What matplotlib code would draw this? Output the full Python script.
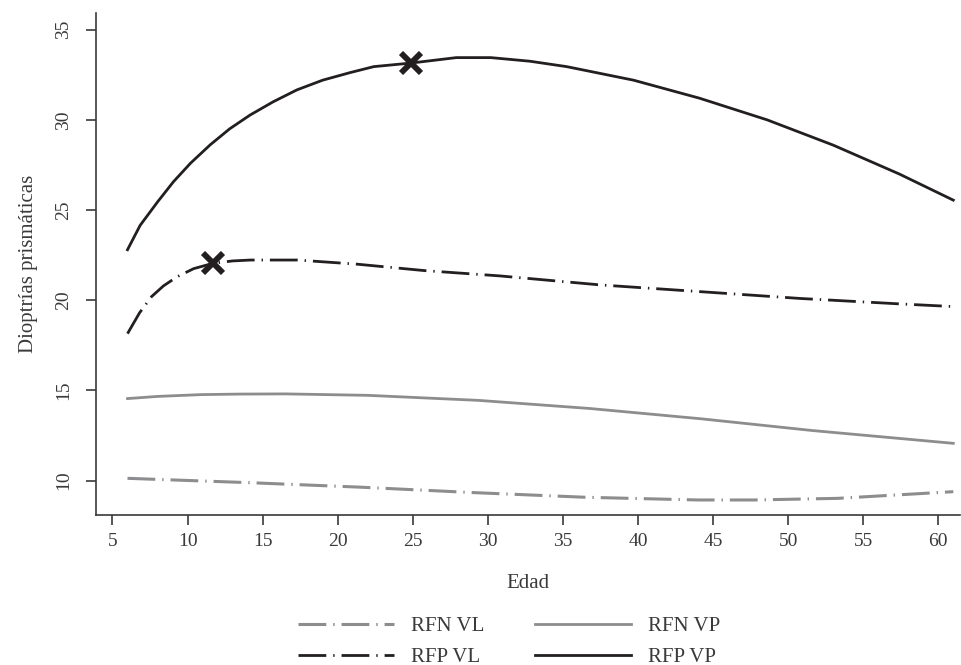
import matplotlib
matplotlib.use('Agg')
import matplotlib.pyplot as plt
from matplotlib.lines import Line2D

plt.rcParams['font.family'] = ['Liberation Serif', 'DejaVu Serif']
plt.rcParams['lines.scale_dashes'] = False

# Curves (age, prism dioptres)
rfp_vp_x = [6.0, 6.84, 8.0, 9.06, 10.2, 11.5, 12.8, 14.17, 15.7, 17.28, 19.0, 20.83,
            22.4, 24.9, 27.9, 30.2, 32.8, 35.25, 39.7, 44.1, 48.6, 53.0, 57.4, 61.0]
rfp_vp_y = [22.8, 24.15, 25.45, 26.57, 27.6, 28.61, 29.5, 30.27, 31.0, 31.66, 32.2, 32.62,
            32.95, 33.15, 33.45, 33.45, 33.25, 32.95, 32.2, 31.2, 30.0, 28.6, 27.0, 25.55]

rfp_vl_x = [6.0, 6.8, 7.6, 8.4, 9.3, 10.4, 11.7, 13.0, 14.2, 17.3, 21.3, 25.7, 30.8,
            37.5, 44.1, 50.8, 57.4, 61.0]
rfp_vl_y = [18.15, 19.3, 20.2, 20.8, 21.3, 21.75, 22.05, 22.18, 22.23, 22.23, 22.0, 21.65, 21.35,
            20.85, 20.48, 20.1, 19.8, 19.65]

rfn_vp_x = [6.0, 8.0, 10.9, 13.5, 16.5, 22.0, 29.4, 36.8, 44.2, 51.6, 61.0]
rfn_vp_y = [14.55, 14.67, 14.77, 14.8, 14.81, 14.73, 14.45, 14.0, 13.43, 12.78, 12.07]

rfn_vl_x = [6.0, 14.1, 21.5, 29.0, 36.5, 44.0, 47.7, 53.3, 61.0]
rfn_vl_y = [10.13, 9.89, 9.64, 9.34, 9.08, 8.93, 8.93, 9.02, 9.39]

# Maxima marked with a cross
max_x = [24.9, 11.7]
max_y = [33.15, 22.05]

labels = ['RFN VL', 'RFP VL', 'RFN VP', 'RFP VP']

gray = '#8d8d8f'
black = '#231f20'
axcol = '#3a3a3a'
dashdot = (0, (20, 5, 1, 5))

fig = plt.figure(figsize=(9.61, 6.65), dpi=100)
ax = fig.add_axes([0.0994, 0.2251, 0.8996, 0.755])

ax.plot(rfn_vl_x, rfn_vl_y, color=gray, lw=2.2, linestyle=dashdot)
ax.plot(rfn_vp_x, rfn_vp_y, color=gray, lw=2.0)
ax.plot(rfp_vl_x, rfp_vl_y, color=black, lw=2.0, linestyle=dashdot)
ax.plot(rfp_vp_x, rfp_vp_y, color=black, lw=2.0)
ax.plot(max_x, max_y, linestyle='none', marker='x', markersize=14,
        markeredgewidth=4.2, color=black, zorder=5)

ax.set_xlim(3.87, 61.45)
ax.set_ylim(8.08, 35.91)
ax.set_xticks(range(5, 61, 5))
ax.set_yticks(range(10, 36, 5))
ax.spines['top'].set_visible(False)
ax.spines['right'].set_visible(False)
for s in ['left', 'bottom']:
    ax.spines[s].set_color(axcol)
    ax.spines[s].set_linewidth(1.2)
ax.tick_params(direction='out', length=7, width=1.2, color=axcol,
               labelsize=14, labelcolor=axcol)
ax.tick_params(axis='y', pad=10)
ax.tick_params(axis='x', pad=6)
plt.setp(ax.get_yticklabels(), rotation=90, va='center')
ax.set_xlabel('Edad', fontsize=15, color=axcol, labelpad=17)
ax.set_ylabel('Dioptrías prismáticas', fontsize=15, color=axcol, labelpad=12)

handles = [
    Line2D([], [], color=gray, lw=2.2, linestyle=dashdot),
    Line2D([], [], color=black, lw=2.0, linestyle=dashdot),
    Line2D([], [], color=gray, lw=2.0),
    Line2D([], [], color=black, lw=2.0),
]
fig.legend(handles, labels, loc='lower center', bbox_to_anchor=(0.53, -0.031), ncol=2,
           frameon=False, fontsize=15, handlelength=4.6, columnspacing=2.45,
           labelspacing=0.55, handletextpad=0.8, labelcolor=axcol)

fig.savefig('out.png', dpi=100)
